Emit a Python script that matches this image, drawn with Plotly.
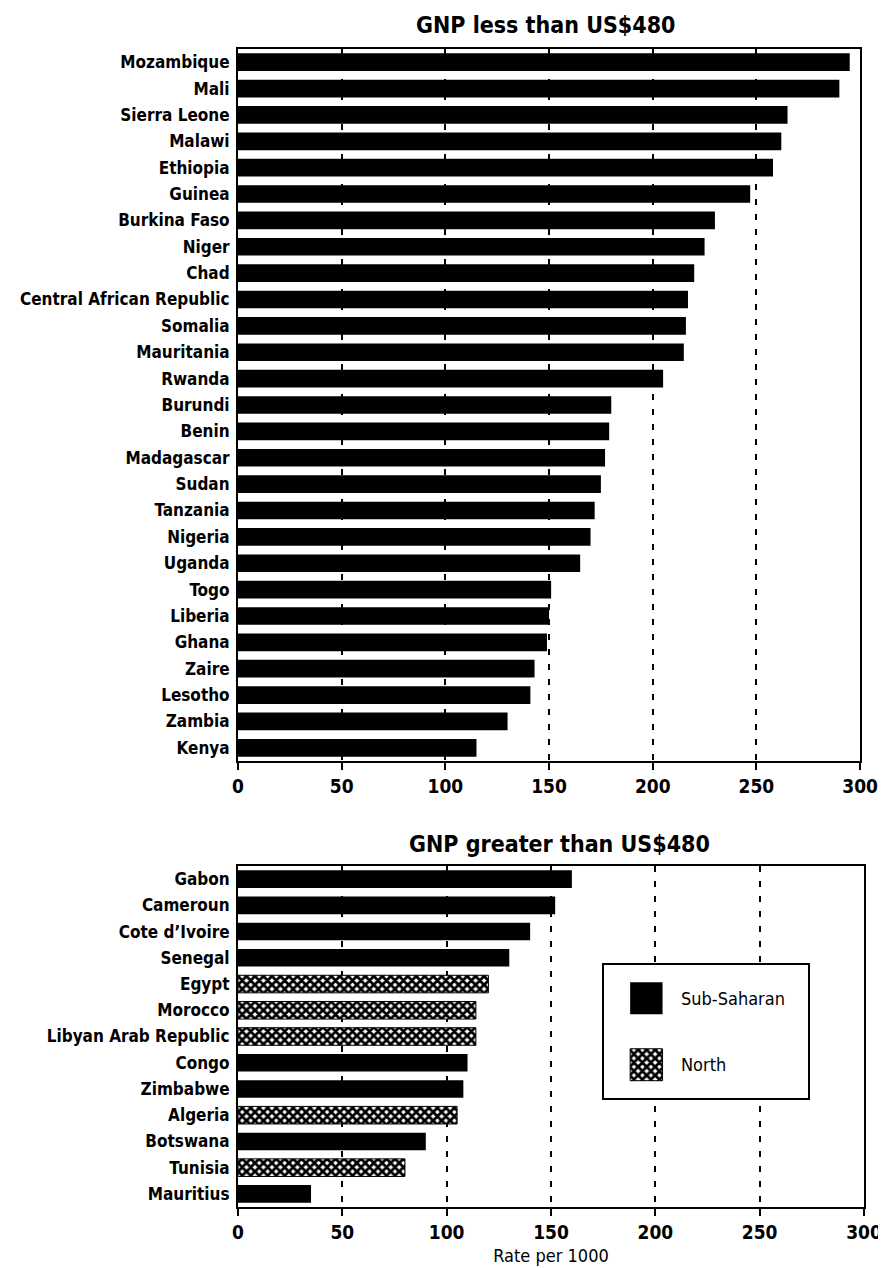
import plotly.graph_objects as go

# ---------------- data ----------------
low_countries = ["Mozambique", "Mali", "Sierra Leone", "Malawi", "Ethiopia", "Guinea",
                 "Burkina Faso", "Niger", "Chad", "Central African Republic", "Somalia",
                 "Mauritania", "Rwanda", "Burundi", "Benin", "Madagascar", "Sudan",
                 "Tanzania", "Nigeria", "Uganda", "Togo", "Liberia", "Ghana", "Zaire",
                 "Lesotho", "Zambia", "Kenya"]
low_values = [295, 290, 265, 262, 258, 247, 230, 225, 220, 217, 216, 215, 205,
              180, 179, 177, 175, 172, 170, 165, 151, 150, 149, 143, 141, 130, 115]

high_countries = ["Gabon", "Cameroun", "Cote d\u2019Ivoire", "Senegal", "Egypt", "Morocco",
                  "Libyan Arab Republic", "Congo", "Zimbabwe", "Algeria", "Botswana",
                  "Tunisia", "Mauritius"]
high_values = [160, 152, 140, 130, 120, 114, 114, 110, 108, 105, 90, 80, 35]
high_region = ["Sub-Saharan", "Sub-Saharan", "Sub-Saharan", "Sub-Saharan", "North", "North",
               "North", "Sub-Saharan", "Sub-Saharan", "North", "Sub-Saharan", "North",
               "Sub-Saharan"]

regions = ["Sub-Saharan", "North"]
titles = ["GNP less than US$480", "GNP greater than US$480"]
x_title = "Rate per 1000"
x_ticks = [0, 50, 100, 150, 200, 250, 300]

# ---------------- styling ----------------
FONT = "DejaVu Sans Condensed, Liberation Sans Narrow, Arial Narrow, sans-serif"
pattern_north = dict(shape="x", bgcolor="white", fgcolor="black", size=6, solidity=0.72,
                     fillmode="replace")

W, H = 886, 1268
ML, MR, MT, MB = 227, 18, 41, 69
PW, PH = W - ML - MR, H - MT - MB


def px_x(p):
    return (p - ML) / PW


def px_y(p):
    return (H - MB - p) / PH


def region_marker(reg):
    if reg == "North":
        return dict(color="white", pattern=pattern_north, line=dict(color="black", width=1))
    return dict(color="black", line=dict(color="black", width=0))


fig = go.Figure()

# top panel
fig.add_trace(go.Bar(
    x=low_values, y=low_countries, orientation="h", marker=region_marker("Sub-Saharan"),
    name="Sub-Saharan", showlegend=False, xaxis="x", yaxis="y",
    hovertemplate="%{y}: %{x}<extra></extra>"))

# bottom panel, one trace per region
for reg in regions:
    xs = [v for v, r in zip(high_values, high_region) if r == reg]
    ys = [c for c, r in zip(high_countries, high_region) if r == reg]
    fig.add_trace(go.Bar(
        x=xs, y=ys, orientation="h", marker=region_marker(reg), name=reg, showlegend=False,
        xaxis="x2", yaxis="y2", hovertemplate="%{y}: %{x}<extra></extra>"))

# legend built as a small inset of swatches
for reg in regions:
    fig.add_trace(go.Bar(
        x=[1], y=[reg], orientation="h", marker=region_marker(reg), name=reg,
        showlegend=False, xaxis="x3", yaxis="y3", hoverinfo="skip", width=0.48))

axis_common = dict(
    range=[0, 300], tickvals=x_ticks, ticks="outside", ticklen=7, tickwidth=2,
    tickcolor="black", showline=True, linecolor="black", linewidth=2, mirror=True,
    showgrid=True, gridcolor="black", gridwidth=2, griddash="6px,9px",
    zeroline=False, tickfont=dict(family=FONT, size=19, color="black", weight="bold"),
)
yaxis_common = dict(
    autorange="reversed", showline=True, linecolor="black", linewidth=2, mirror=True,
    showgrid=False, ticks="", tickfont=dict(family=FONT, size=17, color="black", weight="bold"),
    ticklabelstandoff=3,
)

fig.update_layout(
    width=W, height=H,
    margin=dict(l=ML, r=MR, t=MT, b=MB),
    paper_bgcolor="white", plot_bgcolor="white",
    barmode="overlay", bargap=0.33,
    font=dict(family=FONT, color="black"),
    xaxis=dict(axis_common, domain=[0, px_x(864)], anchor="y"),
    yaxis=dict(yaxis_common, domain=[px_y(753), 1], anchor="x",
               categoryorder="array", categoryarray=low_countries),
    xaxis2=dict(axis_common, domain=[0, px_x(868)], anchor="y2",
                title=dict(text=x_title, font=dict(family=FONT, size=18, color="black"),
                           standoff=8)),
    yaxis2=dict(yaxis_common, domain=[0, px_y(858)], anchor="x2",
                categoryorder="array", categoryarray=high_countries),
    xaxis3=dict(domain=[px_x(602), px_x(811)], anchor="y3", range=[-0.8, 5.5],
                showline=True, mirror=True, linecolor="black", linewidth=2,
                showgrid=False, zeroline=False, showticklabels=False, ticks="",
                fixedrange=True),
    yaxis3=dict(domain=[px_y(1090), px_y(957)], anchor="x3", autorange="reversed",
                categoryorder="array", categoryarray=regions,
                showline=True, mirror=True, linecolor="black", linewidth=2,
                showgrid=False, zeroline=False, showticklabels=False, ticks="",
                fixedrange=True),
    showlegend=False,
)

annotations = [
    dict(text="<b>" + titles[0] + "</b>", x=px_x(542), y=px_y(17), xref="paper", yref="paper",
         showarrow=False, xanchor="center", yanchor="middle",
         font=dict(family=FONT, size=23, color="black")),
    dict(text="<b>" + titles[1] + "</b>", x=px_x(556), y=px_y(836), xref="paper", yref="paper",
         showarrow=False, xanchor="center", yanchor="middle",
         font=dict(family=FONT, size=23, color="black")),
]
for reg in regions:
    annotations.append(dict(text=reg, x=1.5, y=reg, xref="x3", yref="y3", showarrow=False,
                            xanchor="left", yanchor="middle",
                            font=dict(family=FONT, size=18, color="black")))
fig.update_layout(annotations=annotations)

fig.write_html("out.html")
